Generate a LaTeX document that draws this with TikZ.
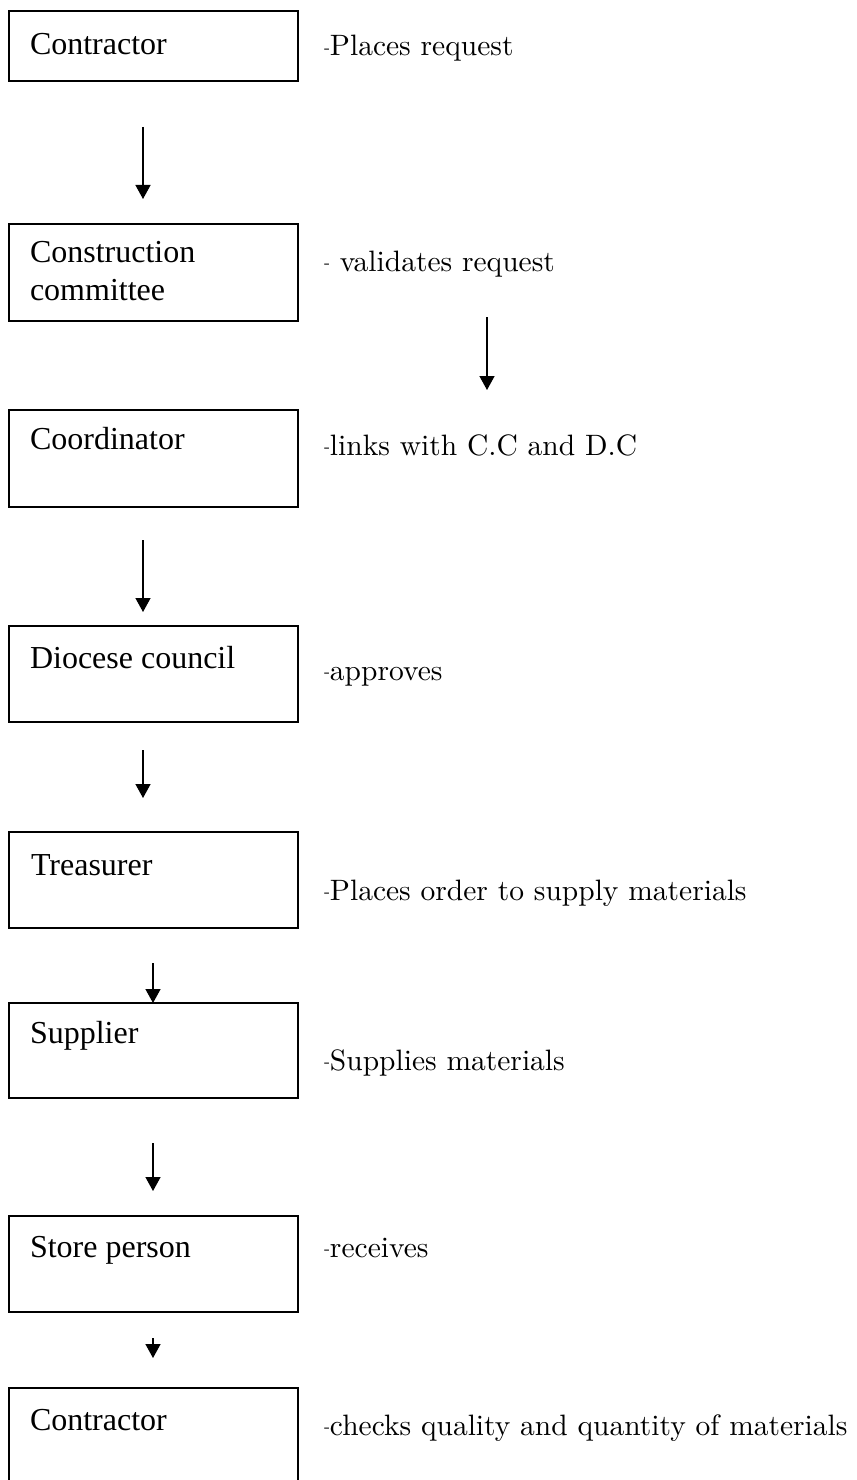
\documentclass[tikz,border=0pt]{standalone}
\usepackage{fontspec}
\usetikzlibrary{arrows.meta}
\newfontfamily\libserif{Liberation Serif}
\newfontfamily\lmnote{lmroman10-regular.otf}
\newcommand\bxfont{\libserif\fontsize{32bp}{38bp}\selectfont}
\newcommand\ntfont{\lmnote\fontsize{29.5bp}{35bp}\selectfont}
\newcommand\dsh{{\fontsize{18bp}{18bp}\selectfont\raisebox{2.5bp}{-}}}
\begin{document}
\begin{tikzpicture}[x=1bp,y=-1bp,
  flowbox/.style={draw=black, line width=1.6bp, minimum width=289bp, inner sep=0pt, outer sep=0pt, anchor=north west},
  boxtext/.style={anchor=base west, inner sep=0pt, outer sep=0pt, font=\bxfont},
  note/.style={anchor=base west, inner sep=0pt, outer sep=0pt, font=\ntfont},
  arr/.style={line width=1.4bp, -{Triangle[width=15bp,length=14bp]}}]
\useasboundingbox (0,0) rectangle (856,1480);
\clip (0,0) rectangle (856,1480);
\fill[white] (0,0) rectangle (856,1480);
% boxes
\node[flowbox, minimum height=70bp] (b1) at (9,11) {};
\node[flowbox, minimum height=97bp] (b2) at (9,224) {};
\node[flowbox, minimum height=97bp] (b3) at (9,410) {};
\node[flowbox, minimum height=96bp] (b4) at (9,626) {};
\node[flowbox, minimum height=96bp] (b5) at (9,832) {};
\node[flowbox, minimum height=95bp] (b6) at (9,1003) {};
\node[flowbox, minimum height=96bp] (b7) at (9,1216) {};
\node[flowbox, minimum height=96bp] (b8) at (9,1388) {};
% box texts
\node[boxtext] (t1) at (30,55) {Contractor};
\node[boxtext] (t2a) at (30,262) {Construction};
\node[boxtext] (t2b) at (30,300) {committee};
\node[boxtext] (t3) at (30,449) {Coordinator};
\node[boxtext] (t4) at (30,668) {Diocese council};
\node[boxtext] (t5) at (31,875) {Treasurer};
\node[boxtext] (t6) at (30,1043) {Supplier};
\node[boxtext] (t7) at (30,1257) {Store person};
\node[boxtext] (t8) at (30,1430) {Contractor};
% notes
\node[note] (n1) at (324,56) {\dsh Places request};
\node[note] (n2) at (324,271) {\dsh\ validates request};
\node[note] (n3) at (324,455) {\dsh links with C.C and D.C};
\node[note] (n4) at (324,680) {\dsh approves};
\node[note] (n5) at (324,900) {\dsh Places order to supply materials};
\node[note] (n6) at (324,1070) {\dsh Supplies materials};
\node[note] (n7) at (324,1257) {\dsh receives};
\node[note] (n8) at (324,1435) {\dsh checks quality and quantity of materials};
% arrows
\coordinate (a1s) at (143,127); \coordinate (a1e) at (143,199);
\coordinate (a2s) at (487,317); \coordinate (a2e) at (487,390);
\coordinate (a3s) at (143,540); \coordinate (a3e) at (143,612);
\coordinate (a4s) at (143,750); \coordinate (a4e) at (143,798);
\coordinate (a5s) at (153,963);
\coordinate (a6s) at (153,1143); \coordinate (a6e) at (153,1191);
\coordinate (a7s) at (153,1338); \coordinate (a7e) at (153,1358);
\draw[arr] (a1s) -- (a1e);
\draw[arr] (a2s) -- (a2e);
\draw[arr] (a3s) -- (a3e);
\draw[arr] (a4s) -- (a4e);
\draw[arr] (a5s) -- (a5s |- b6.north);
\draw[arr] (a6s) -- (a6e);
\draw[arr] (a7s) -- (a7e);
\end{tikzpicture}
\end{document}
